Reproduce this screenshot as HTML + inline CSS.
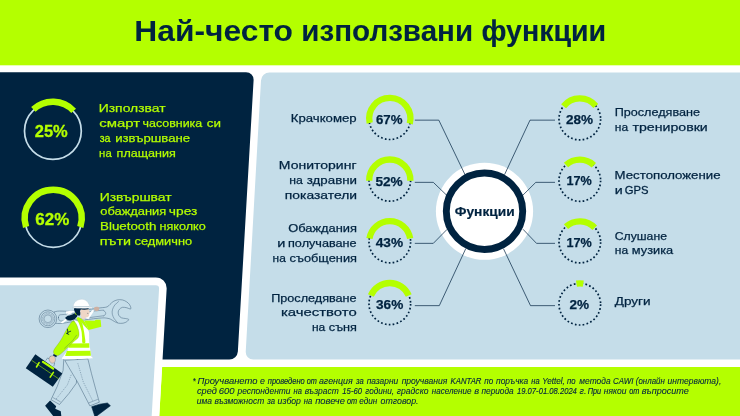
<!DOCTYPE html>
<html lang="bg"><head><meta charset="utf-8"><title>Най-често използвани функции</title>
<style>html,body{margin:0;padding:0;background:#fff;}body{width:740px;height:416px;overflow:hidden;position:relative;}svg{display:block;position:absolute;left:0;top:0;}text{font-family:"Liberation Sans",sans-serif;}</style>
</head><body>
<svg width="740" height="416" viewBox="0 0 740 416">
<rect x="0" y="0" width="740" height="416" fill="#ffffff"/>
<rect x="0" y="0" width="740" height="65.3" fill="#b4ff00"/>
<g transform="skewX(-3.319)">
<rect x="-60" y="72.2" width="318.24" height="287.30" rx="8" fill="#002340"/>
<rect x="183.39" y="367" width="700" height="60" fill="#b4ff00"/>
<rect x="-60" y="277.4" width="243.39" height="160" rx="11.5" fill="#ffffff"/>
<rect x="-60" y="285.3" width="235.82" height="160" rx="3.5" fill="#c5dde9"/>
</g>
<g transform="skewX(-3.217)">
<rect x="265.50" y="72.4" width="600" height="287.10" rx="8" fill="#c5dde9"/>
</g>
<text y="41.4" font-size="30" fill="#002340" font-weight="bold"><tspan x="134.28" textLength="158.75" lengthAdjust="spacingAndGlyphs">Най-често</tspan> <tspan x="301.36" textLength="171.77" lengthAdjust="spacingAndGlyphs" stroke="#002340" stroke-width="0.05">използвани</tspan> <tspan x="481.46" textLength="124.71" lengthAdjust="spacingAndGlyphs" stroke="#002340" stroke-width="0.12">функции</tspan></text>
<circle cx="52.90" cy="131.00" r="28.4" fill="none" stroke="#c5dde9" stroke-width="1.7"/>
<path d="M33.36 109.46A28.5 28.5 0 0 1 73.64 110.86" fill="none" stroke="#b4ff00" stroke-width="6.5"/>
<text x="34.73" y="136.7" font-size="16" fill="#b4ff00" font-weight="bold" textLength="33.01" lengthAdjust="spacingAndGlyphs" stroke="#b4ff00" stroke-width="0.3">25%</text>
<circle cx="53.30" cy="218.90" r="28.4" fill="none" stroke="#c5dde9" stroke-width="1.7"/>
<path d="M26.09 227.01A28.5 28.5 0 1 1 80.31 227.01" fill="none" stroke="#b4ff00" stroke-width="6.5"/>
<text x="35.28" y="225.3" font-size="16" fill="#b4ff00" font-weight="bold" textLength="33.97" lengthAdjust="spacingAndGlyphs" stroke="#b4ff00" stroke-width="0.3">62%</text>
<text y="112.4" font-size="11.5" fill="#b4ff00" stroke="#b4ff00" stroke-width="0.25"><tspan x="98.77" textLength="66.76" lengthAdjust="spacingAndGlyphs">Използват</tspan></text>
<text y="127.3" font-size="11.5" fill="#b4ff00" stroke="#b4ff00" stroke-width="0.25"><tspan x="99.27" textLength="40.78" lengthAdjust="spacingAndGlyphs">смарт</tspan> <tspan x="142.55" textLength="59.65" lengthAdjust="spacingAndGlyphs">часовника</tspan> <tspan x="206.83" textLength="14.2" lengthAdjust="spacingAndGlyphs">си</tspan></text>
<text y="142.0" font-size="11.5" fill="#b4ff00" stroke="#b4ff00" stroke-width="0.25"><tspan x="99.64" textLength="10.86" lengthAdjust="spacingAndGlyphs" stroke="#b4ff00" stroke-width="0.31">за</tspan> <tspan x="115.19" textLength="74.89" lengthAdjust="spacingAndGlyphs">извършване</tspan></text>
<text y="156.7" font-size="11.5" fill="#b4ff00" stroke="#b4ff00" stroke-width="0.25"><tspan x="99.11" textLength="12.59" lengthAdjust="spacingAndGlyphs">на</tspan> <tspan x="116.63" textLength="59.14" lengthAdjust="spacingAndGlyphs">плащания</tspan></text>
<text y="200.5" font-size="11.5" fill="#b4ff00" stroke="#b4ff00" stroke-width="0.25"><tspan x="99.67" textLength="71.96" lengthAdjust="spacingAndGlyphs">Извършват</tspan></text>
<text y="215.29999999999998" font-size="11.5" fill="#b4ff00" stroke="#b4ff00" stroke-width="0.25"><tspan x="100.26" textLength="65.93" lengthAdjust="spacingAndGlyphs">обаждания</tspan> <tspan x="168.89" textLength="28.53" lengthAdjust="spacingAndGlyphs">чрез</tspan></text>
<text y="229.89999999999998" font-size="11.5" fill="#b4ff00" stroke="#b4ff00" stroke-width="0.25"><tspan x="100.0" textLength="56.46" lengthAdjust="spacingAndGlyphs">Bluetooth</tspan> <tspan x="159.52" textLength="46.31" lengthAdjust="spacingAndGlyphs">няколко</tspan></text>
<text y="244.7" font-size="11.5" fill="#b4ff00" stroke="#b4ff00" stroke-width="0.25"><tspan x="99.81" textLength="31.29" lengthAdjust="spacingAndGlyphs">пъти</tspan> <tspan x="134.56" textLength="57.58" lengthAdjust="spacingAndGlyphs">седмично</tspan></text>
<circle cx="484.5" cy="211.25" r="48.6" fill="#ffffff"/>
<path d="M414.8 120.15L438.8 120.15L465.3 175.25" fill="none" stroke="#002340" stroke-width="0.7" stroke-linejoin="miter"/>
<path d="M414.8 182.35L433.3 182.35L447.0 195.55" fill="none" stroke="#002340" stroke-width="0.7" stroke-linejoin="miter"/>
<path d="M414.8 243.35L433.3 243.35L447.2 229.25" fill="none" stroke="#002340" stroke-width="0.7" stroke-linejoin="miter"/>
<path d="M414.8 305.65L439.3 305.65L465.8 248.55" fill="none" stroke="#002340" stroke-width="0.7" stroke-linejoin="miter"/>
<path d="M555.0 120.15L530.0 120.15L504.5 174.75" fill="none" stroke="#002340" stroke-width="0.7" stroke-linejoin="miter"/>
<path d="M555.0 182.35L535.8 182.35L523.0 195.05" fill="none" stroke="#002340" stroke-width="0.7" stroke-linejoin="miter"/>
<path d="M555.0 243.35L536.5 243.35L523.0 229.25" fill="none" stroke="#002340" stroke-width="0.7" stroke-linejoin="miter"/>
<path d="M555.0 305.65L530.5 305.65L503.5 248.75" fill="none" stroke="#002340" stroke-width="0.7" stroke-linejoin="miter"/>
<circle cx="484.5" cy="211.25" r="38.2" fill="#ffffff" stroke="#002340" stroke-width="6.9"/>
<text x="454.72" y="215.6" font-size="13.5" fill="#002340" font-weight="bold" textLength="59.93" lengthAdjust="spacingAndGlyphs" stroke="#002340" stroke-width="0.2">Функции</text>
<circle cx="389.8" cy="118.70" r="20.8" fill="none" stroke="#002340" stroke-width="1.7" stroke-dasharray="1.7 2.2603" transform="rotate(0.386 389.8 118.70)"/>
<path d="M369.69 122.96A20.6 20.6 0 1 1 409.74 123.66" fill="none" stroke="#b4ff00" stroke-width="6.3"/>
<text x="375.91" y="123.7" font-size="13.3" fill="#002340" font-weight="bold" textLength="26.54" lengthAdjust="spacingAndGlyphs" stroke="#002340" stroke-width="0.25">67%</text>
<circle cx="389.8" cy="180.40" r="20.8" fill="none" stroke="#002340" stroke-width="1.7" stroke-dasharray="1.7 2.2603" transform="rotate(0.386 389.8 180.40)"/>
<path d="M369.21 180.74A20.6 20.6 0 1 1 410.39 180.74" fill="none" stroke="#b4ff00" stroke-width="6.3"/>
<text x="375.48" y="185.5" font-size="13.3" fill="#002340" font-weight="bold" textLength="27.28" lengthAdjust="spacingAndGlyphs" stroke="#002340" stroke-width="0.25">52%</text>
<circle cx="389.8" cy="242.00" r="20.8" fill="none" stroke="#002340" stroke-width="1.7" stroke-dasharray="1.7 2.2603" transform="rotate(0.386 389.8 242.00)"/>
<path d="M369.45 238.58A20.6 20.6 0 0 1 410.15 238.58" fill="none" stroke="#b4ff00" stroke-width="6.3"/>
<text x="375.69" y="247.2" font-size="13.3" fill="#002340" font-weight="bold" textLength="27.37" lengthAdjust="spacingAndGlyphs" stroke="#002340" stroke-width="0.25">43%</text>
<circle cx="389.8" cy="303.80" r="20.8" fill="none" stroke="#002340" stroke-width="1.7" stroke-dasharray="1.7 2.2603" transform="rotate(0.386 389.8 303.80)"/>
<path d="M370.84 295.55A20.6 20.6 0 0 1 408.76 295.55" fill="none" stroke="#b4ff00" stroke-width="6.3"/>
<text x="375.99" y="308.7" font-size="13.3" fill="#002340" font-weight="bold" textLength="27.27" lengthAdjust="spacingAndGlyphs" stroke="#002340" stroke-width="0.25">36%</text>
<circle cx="579.8" cy="119.10" r="20.8" fill="none" stroke="#002340" stroke-width="1.7" stroke-dasharray="1.7 2.2603" transform="rotate(0.386 579.8 119.10)"/>
<path d="M563.57 106.22A20.6 20.6 0 0 1 595.81 105.94" fill="none" stroke="#b4ff00" stroke-width="6.3"/>
<text x="565.93" y="123.9" font-size="13.3" fill="#002340" font-weight="bold" textLength="27.13" lengthAdjust="spacingAndGlyphs" stroke="#002340" stroke-width="0.25">28%</text>
<circle cx="579.8" cy="180.50" r="20.8" fill="none" stroke="#002340" stroke-width="1.7" stroke-dasharray="1.7 2.2603" transform="rotate(0.386 579.8 180.50)"/>
<path d="M566.02 164.99A20.6 20.6 0 0 1 593.85 165.23" fill="none" stroke="#b4ff00" stroke-width="6.3"/>
<text x="566.5" y="185.1" font-size="13.3" fill="#002340" font-weight="bold" textLength="25.33" lengthAdjust="spacingAndGlyphs" stroke="#002340" stroke-width="0.25">17%</text>
<circle cx="579.8" cy="242.10" r="20.8" fill="none" stroke="#002340" stroke-width="1.7" stroke-dasharray="1.7 2.2603" transform="rotate(0.386 579.8 242.10)"/>
<path d="M566.02 226.59A20.6 20.6 0 0 1 594.74 227.72" fill="none" stroke="#b4ff00" stroke-width="6.3"/>
<text x="566.5" y="247.0" font-size="13.3" fill="#002340" font-weight="bold" textLength="25.33" lengthAdjust="spacingAndGlyphs" stroke="#002340" stroke-width="0.25">17%</text>
<circle cx="579.8" cy="304.20" r="20.8" fill="none" stroke="#002340" stroke-width="1.7" stroke-dasharray="1.7 2.2603" transform="rotate(0.386 579.8 304.20)"/>
<path d="M576.47 283.67A20.6 20.6 0 0 1 583.27 283.69" fill="none" stroke="#b4ff00" stroke-width="6.3"/>
<text x="569.53" y="309.0" font-size="13.3" fill="#002340" font-weight="bold" textLength="19.63" lengthAdjust="spacingAndGlyphs" stroke="#002340" stroke-width="0.25">2%</text>
<text y="122.0" font-size="11.5" fill="#002340" stroke="#002340" stroke-width="0.25"><tspan x="290.82" textLength="65.83" lengthAdjust="spacingAndGlyphs">Крачкомер</tspan></text>
<text y="169.39999999999998" font-size="11.5" fill="#002340" stroke="#002340" stroke-width="0.25"><tspan x="278.85" textLength="77.66" lengthAdjust="spacingAndGlyphs">Мониторинг</tspan></text>
<text y="184.1" font-size="11.5" fill="#002340" stroke="#002340" stroke-width="0.25"><tspan x="289.25" textLength="13.55" lengthAdjust="spacingAndGlyphs">на</tspan> <tspan x="306.78" textLength="50.23" lengthAdjust="spacingAndGlyphs">здравни</tspan></text>
<text y="198.6" font-size="11.5" fill="#002340" stroke="#002340" stroke-width="0.25"><tspan x="284.85" textLength="72.2" lengthAdjust="spacingAndGlyphs">показатели</tspan></text>
<text y="232.29999999999998" font-size="11.5" fill="#002340" stroke="#002340" stroke-width="0.25"><tspan x="288.29" textLength="68.69" lengthAdjust="spacingAndGlyphs">Обаждания</tspan></text>
<text y="247.0" font-size="11.5" fill="#002340" stroke="#002340" stroke-width="0.25"><tspan x="277.29" textLength="8.11" lengthAdjust="spacingAndGlyphs">и</tspan> <tspan x="288.03" textLength="68.63" lengthAdjust="spacingAndGlyphs">получаване</tspan></text>
<text y="261.5" font-size="11.5" fill="#002340" stroke="#002340" stroke-width="0.25"><tspan x="272.57" textLength="13.23" lengthAdjust="spacingAndGlyphs">на</tspan> <tspan x="289.56" textLength="67.43" lengthAdjust="spacingAndGlyphs">съобщения</tspan></text>
<text y="301.5" font-size="11.5" fill="#002340" stroke="#002340" stroke-width="0.25"><tspan x="271.18" textLength="85.48" lengthAdjust="spacingAndGlyphs">Проследяване</tspan></text>
<text y="316.09999999999997" font-size="11.5" fill="#002340" stroke="#002340" stroke-width="0.25"><tspan x="280.9" textLength="75.82" lengthAdjust="spacingAndGlyphs">качеството</tspan></text>
<text y="330.7" font-size="11.5" fill="#002340" stroke="#002340" stroke-width="0.25"><tspan x="311.97" textLength="13.33" lengthAdjust="spacingAndGlyphs">на</tspan> <tspan x="328.86" textLength="28.12" lengthAdjust="spacingAndGlyphs">съня</tspan></text>
<text y="116.4" font-size="11.5" fill="#002340" stroke="#002340" stroke-width="0.25"><tspan x="614.68" textLength="85.38" lengthAdjust="spacingAndGlyphs">Проследяване</tspan></text>
<text y="130.5" font-size="11.5" fill="#002340" stroke="#002340" stroke-width="0.25"><tspan x="614.87" textLength="13.33" lengthAdjust="spacingAndGlyphs">на</tspan> <tspan x="632.46" textLength="75.32" lengthAdjust="spacingAndGlyphs">тренировки</tspan></text>
<text y="179.29999999999998" font-size="11.5" fill="#002340" stroke="#002340" stroke-width="0.25"><tspan x="614.62" textLength="105.87" lengthAdjust="spacingAndGlyphs">Местоположение</tspan></text>
<text y="193.7" font-size="11.5" fill="#002340" stroke="#002340" stroke-width="0.25"><tspan x="614.71" textLength="7.98" lengthAdjust="spacingAndGlyphs">и</tspan> <tspan x="624.83" textLength="23.78" lengthAdjust="spacingAndGlyphs" stroke="#002340" stroke-width="0.27">GPS</tspan></text>
<text y="239.5" font-size="11.5" fill="#002340" stroke="#002340" stroke-width="0.25"><tspan x="614.78" textLength="52.16" lengthAdjust="spacingAndGlyphs">Слушане</tspan></text>
<text y="254.1" font-size="11.5" fill="#002340" stroke="#002340" stroke-width="0.25"><tspan x="614.87" textLength="13.33" lengthAdjust="spacingAndGlyphs">на</tspan> <tspan x="631.8" textLength="41.4" lengthAdjust="spacingAndGlyphs">музика</tspan></text>
<text y="304.9" font-size="11.5" fill="#002340" stroke="#002340" stroke-width="0.25"><tspan x="614.8" textLength="35.83" lengthAdjust="spacingAndGlyphs">Други</tspan></text>
<text y="383.9" font-size="8.3" fill="#002340" font-style="italic" stroke="#002340" stroke-width="0.08"><tspan x="192.72" textLength="2.84" lengthAdjust="spacingAndGlyphs" stroke="#002340" stroke-width="0.16">*</tspan> <tspan x="197.61" textLength="59.88" lengthAdjust="spacingAndGlyphs">Проучването</tspan> <tspan x="260.1" textLength="4.93" lengthAdjust="spacingAndGlyphs">е</tspan> <tspan x="267.78" textLength="36.96" lengthAdjust="spacingAndGlyphs" stroke="#002340" stroke-width="0.15">проведено</tspan> <tspan x="306.73" textLength="10.15" lengthAdjust="spacingAndGlyphs" stroke="#002340" stroke-width="0.16">от</tspan> <tspan x="318.9" textLength="33.88" lengthAdjust="spacingAndGlyphs">агенция</tspan> <tspan x="356.05" textLength="7.71" lengthAdjust="spacingAndGlyphs" stroke="#002340" stroke-width="0.14">за</tspan> <tspan x="366.66" textLength="31.5" lengthAdjust="spacingAndGlyphs">пазарни</tspan> <tspan x="401.66" textLength="45.71" lengthAdjust="spacingAndGlyphs">проучвания</tspan> <tspan x="450.57" textLength="30.87" lengthAdjust="spacingAndGlyphs" stroke="#002340" stroke-width="0.14">KANTAR</tspan> <tspan x="484.37" textLength="8.89" lengthAdjust="spacingAndGlyphs" stroke="#002340" stroke-width="0.10">по</tspan> <tspan x="496.06" textLength="32.23" lengthAdjust="spacingAndGlyphs">поръчка</tspan> <tspan x="531.28" textLength="8.28" lengthAdjust="spacingAndGlyphs" stroke="#002340" stroke-width="0.15">на</tspan> <tspan x="542.27" textLength="22.55" lengthAdjust="spacingAndGlyphs" stroke="#002340" stroke-width="0.11">Yettel,</tspan> <tspan x="566.97" textLength="8.57" lengthAdjust="spacingAndGlyphs" stroke="#002340" stroke-width="0.12">по</tspan> <tspan x="579.36" textLength="31.22" lengthAdjust="spacingAndGlyphs">метода</tspan> <tspan x="613.07" textLength="20.42" lengthAdjust="spacingAndGlyphs" stroke="#002340" stroke-width="0.12">CAWI</tspan> <tspan x="635.83" textLength="28.92" lengthAdjust="spacingAndGlyphs" stroke="#002340" stroke-width="0.11">(онлайн</tspan> <tspan x="667.64" textLength="53.64" lengthAdjust="spacingAndGlyphs">интервюта),</tspan></text>
<text y="394.3" font-size="8.3" fill="#002340" font-style="italic" stroke="#002340" stroke-width="0.08"><tspan x="196.9" textLength="19.89" lengthAdjust="spacingAndGlyphs">сред</tspan> <tspan x="218.77" textLength="15.81" lengthAdjust="spacingAndGlyphs">600</tspan> <tspan x="237.51" textLength="52.96" lengthAdjust="spacingAndGlyphs">респонденти</tspan> <tspan x="293.58" textLength="8.28" lengthAdjust="spacingAndGlyphs" stroke="#002340" stroke-width="0.15">на</tspan> <tspan x="304.84" textLength="33.95" lengthAdjust="spacingAndGlyphs">възраст</tspan> <tspan x="342.3" textLength="19.76" lengthAdjust="spacingAndGlyphs" stroke="#002340" stroke-width="0.13">15-60</tspan> <tspan x="365.22" textLength="28.92" lengthAdjust="spacingAndGlyphs" stroke="#002340" stroke-width="0.09">години,</tspan> <tspan x="396.82" textLength="31.66" lengthAdjust="spacingAndGlyphs">градско</tspan> <tspan x="431.87" textLength="39.63" lengthAdjust="spacingAndGlyphs" stroke="#002340" stroke-width="0.10">население</tspan> <tspan x="474.22" textLength="4.85" lengthAdjust="spacingAndGlyphs">в</tspan> <tspan x="481.46" textLength="32.22" lengthAdjust="spacingAndGlyphs">периода</tspan> <tspan x="517.0" textLength="59.88" lengthAdjust="spacingAndGlyphs" stroke="#002340" stroke-width="0.13">19.07-01.08.2024</tspan> <tspan x="579.6" textLength="7.01" lengthAdjust="spacingAndGlyphs">г.</tspan> <tspan x="587.75" textLength="13.42" lengthAdjust="spacingAndGlyphs" stroke="#002340" stroke-width="0.16">При</tspan> <tspan x="603.86" textLength="22.71" lengthAdjust="spacingAndGlyphs">някои</tspan> <tspan x="629.13" textLength="10.15" lengthAdjust="spacingAndGlyphs" stroke="#002340" stroke-width="0.16">от</tspan> <tspan x="641.73" textLength="47.2" lengthAdjust="spacingAndGlyphs">въпросите</tspan></text>
<text y="404.4" font-size="8.3" fill="#002340" font-style="italic" stroke="#002340" stroke-width="0.08"><tspan x="196.84" textLength="15.25" lengthAdjust="spacingAndGlyphs">има</tspan> <tspan x="214.44" textLength="49.74" lengthAdjust="spacingAndGlyphs">възможност</tspan> <tspan x="267.25" textLength="7.81" lengthAdjust="spacingAndGlyphs" stroke="#002340" stroke-width="0.13">за</tspan> <tspan x="277.64" textLength="23.34" lengthAdjust="spacingAndGlyphs">избор</tspan> <tspan x="303.77" textLength="8.49" lengthAdjust="spacingAndGlyphs" stroke="#002340" stroke-width="0.13">на</tspan> <tspan x="315.15" textLength="29.79" lengthAdjust="spacingAndGlyphs">повече</tspan> <tspan x="346.88" textLength="10.15" lengthAdjust="spacingAndGlyphs" stroke="#002340" stroke-width="0.16">от</tspan> <tspan x="359.33" textLength="18.03" lengthAdjust="spacingAndGlyphs" stroke="#002340" stroke-width="0.09">един</tspan> <tspan x="380.61" textLength="37.95" lengthAdjust="spacingAndGlyphs">отговор.</tspan></text>
<g id="worker">
<path d="M54.5 312.0C57.2 310.0 66.4 311.7 72.0 311.3C77.6 310.9 83.3 310.2 88.0 309.6C92.7 309.0 96.8 308.4 100.0 307.9C103.2 307.5 105.3 307.5 106.9 306.9C108.6 306.3 109.0 305.3 110.0 304.4C111.0 303.5 111.9 302.4 113.1 301.6C114.3 300.9 115.8 300.2 117.3 299.9C118.8 299.6 120.8 299.6 122.3 299.9C123.8 300.2 125.1 300.9 126.3 301.6C127.5 302.4 128.6 303.3 129.4 304.4C130.2 305.4 130.8 307.2 130.9 307.9C131.1 308.7 130.8 309.0 130.2 309.0C129.5 309.0 128.2 308.1 126.9 307.8C125.6 307.5 123.7 307.1 122.5 307.3C121.2 307.6 120.1 308.5 119.4 309.3C118.7 310.1 118.2 311.1 118.2 312.1C118.1 313.1 118.4 314.5 118.9 315.5C119.5 316.4 120.3 317.3 121.4 317.8C122.5 318.3 124.2 318.3 125.4 318.5C126.6 318.8 128.4 318.8 128.6 319.3C128.9 319.8 127.8 321.0 126.9 321.6C126.0 322.3 124.5 322.9 123.1 323.2C121.7 323.4 119.9 323.4 118.5 323.2C117.1 322.9 115.9 322.3 114.6 321.6C113.3 321.0 112.1 319.9 110.8 319.3C109.5 318.7 108.7 318.4 106.9 318.2C105.1 317.9 104.5 317.7 100.0 318.1C95.5 318.5 87.4 319.5 80.0 320.4C72.6 321.3 59.9 324.6 55.6 323.2C51.4 321.8 51.7 314.0 54.5 312.0Z" fill="#c5dde9" stroke="#3f5e78" stroke-width="0.5" stroke-linejoin="round" stroke-linecap="round"/>
<path d="M118.5 301.6C117.8 302.2 115.8 303.7 114.8 305.0C113.8 306.3 112.9 308.1 112.5 309.6C112.1 311.2 112.0 312.7 112.3 314.2C112.6 315.8 113.5 317.5 114.3 318.8C115.2 320.2 116.9 321.8 117.4 322.4" fill="none" stroke="#3f5e78" stroke-width="0.45" stroke-linejoin="round" stroke-linecap="round"/>
<circle cx="47.9" cy="318.8" r="8.8" fill="#c5dde9" stroke="#3f5e78" stroke-width="0.5"/>
<circle cx="47.9" cy="318.8" r="7.0" fill="none" stroke="#3f5e78" stroke-width="0.45"/>
<circle cx="47.9" cy="318.8" r="4.7" fill="none" stroke="#b0c8d6" stroke-width="1.7"/>
<circle cx="47.9" cy="318.8" r="5.6" fill="none" stroke="#3f5e78" stroke-width="0.3" stroke-dasharray="2 0.9" opacity="0.8"/>
<circle cx="47.9" cy="318.8" r="3.8" fill="none" stroke="#3f5e78" stroke-width="0.35" opacity="0.9"/>
<path d="M58.5 317.5C58.5 316.6 58.5 315.5 59.8 314.9C61.2 314.4 60.1 315.0 66.8 314.2C73.5 313.5 93.8 310.9 100.0 310.4C106.2 309.8 102.9 310.5 103.8 310.8C104.8 311.2 105.3 311.8 105.5 312.4C105.8 312.9 105.8 313.7 105.5 314.2C105.3 314.8 104.8 315.4 103.8 315.8C102.9 316.1 106.2 315.4 100.0 316.2C93.8 317.0 73.5 319.7 66.8 320.5C60.1 321.2 61.2 321.1 59.8 320.6C58.5 320.1 58.5 318.5 58.5 317.5Z" fill="none" stroke="#3f5e78" stroke-width="0.45" stroke-linejoin="round" stroke-linecap="round"/>
<path d="M60.5 322.7L66.4 318.2L69.8 315.5L72.0 315.5L66.8 320.5L62.5 323.2Z" fill="#ffffff"/>
<path d="M66.4 314.4L69.8 312.1L72.0 311.5L72.0 313.2L68.3 314.8Z" fill="#ffffff"/>
<path d="M84.8 318.2L89.1 313.8L92.3 310.0L94.3 310.5L91.5 314.7L88.5 319.0Z" fill="#ffffff"/>
<path d="M66.0 311.5L70.6 310.8L74.5 311.0L74.5 312.1L69.1 313.1L66.0 313.8Z" fill="#ffffff"/>
<path d="M45.1 405.7L50.1 400.6L56.2 406.2L55.2 408.7L60.8 411.3L61.3 416.0L53.2 416.0Z" fill="#002340"/>
<path d="M91.7 406.7L99.8 404.2L107.4 403.0L110.4 405.7L96.7 416.0L94.7 416.0Z" fill="#002340" stroke="#002340" stroke-width="0.6" stroke-linejoin="round"/>
<path d="M63.8 358.9L77.5 358.9L76.4 383.1L68.9 393.5L59.5 404.5L51.0 399.7L57.3 386.3L63.1 370.4Z" fill="#c5dde9" stroke="#3f5e78" stroke-width="0.5" stroke-linejoin="round"/>
<path d="M64.8 360.3L87.9 358.9L91.4 373.3L95.7 389.2L99.3 402.2L89.9 405.9L77.5 382.0L68.9 367.5Z" fill="#c5dde9" stroke="#3f5e78" stroke-width="0.5" stroke-linejoin="round"/>
<path d="M52.7 397.4L60.6 401.9" fill="none" stroke="#3f5e78" stroke-width="0.4" stroke-linejoin="round"/>
<path d="M88.5 403.0L97.9 399.3" fill="none" stroke="#3f5e78" stroke-width="0.4" stroke-linejoin="round"/>
<path d="M77.8 363.2L83.3 382.0L92.8 401.0" fill="none" stroke="#3f5e78" stroke-width="0.4" stroke-linejoin="round" stroke-dasharray="1.3 1"/>
<path d="M71.2 374.8L67.4 384.9L55.9 399.3" fill="none" stroke="#3f5e78" stroke-width="0.4" stroke-linejoin="round" stroke-dasharray="1.3 1"/>
<path d="M35.3 354.2L62.3 373.5L52.8 386.7L25.8 368.2Z" fill="#002340"/>
<path d="M31.6 360.3L58.6 378.8" fill="none" stroke="#b4ff00" stroke-width="0.55" stroke-linejoin="round"/>
<path d="M39.1 362.7L36.5 367.0" fill="none" stroke="#b4ff00" stroke-width="1.6" stroke-linejoin="round" stroke-linecap="round"/>
<path d="M53.4 372.4L50.2 377.1" fill="none" stroke="#b4ff00" stroke-width="1.6" stroke-linejoin="round" stroke-linecap="round"/>
<path d="M45.7 360.6L47.7 357.9L54.7 362.9L53.8 366.3" fill="none" stroke="#3f5e78" stroke-width="0.5" stroke-linejoin="round"/>
<path d="M43.0 361.9L53.1 368.5" fill="none" stroke="#b4ff00" stroke-width="2.3" stroke-linejoin="round" stroke-linecap="round"/>
<path d="M50.1 356.6C50.9 355.9 52.9 355.5 53.8 355.9C54.7 356.4 55.4 358.1 55.5 359.2C55.6 360.3 55.2 361.8 54.5 362.4C53.8 363.0 52.2 363.5 51.3 363.0C50.4 362.6 49.3 360.8 49.1 359.7C48.9 358.7 49.3 357.2 50.1 356.6Z" fill="#e8ccba" stroke="#3f5e78" stroke-width="0.3" stroke-linejoin="round" stroke-linecap="round"/>
<path d="M84.4 320.5L94.7 320.8L95.8 319.7L100.6 319.7L101.3 326.7L88.5 330.1L86.9 326.1L85.3 322.9Z" fill="#b4ff00"/>
<path d="M74.3 320.4C74.9 320.0 79.4 322.6 81.4 323.8C83.4 325.1 84.9 326.4 86.2 327.7C87.4 329.0 88.3 330.0 88.8 331.5C89.3 333.1 89.1 335.0 89.2 336.9C89.2 338.8 89.0 339.9 89.3 343.1C89.7 346.3 90.9 353.5 91.2 356.0C91.6 358.5 95.9 357.8 91.4 358.3C86.9 358.8 68.9 359.6 64.2 359.2C59.6 358.8 63.0 357.4 63.5 356.0C64.1 354.6 66.5 352.9 67.5 350.8C68.5 348.6 68.2 345.0 69.5 343.1C70.7 341.2 73.8 340.9 75.2 339.2C76.7 337.6 77.9 335.3 78.3 333.1C78.7 330.9 78.2 328.3 77.5 326.2C76.9 324.0 73.7 320.8 74.3 320.4Z" fill="#ffffff"/>
<path d="M76.5 318.3L78.8 317.3L82.4 319.6L85.0 322.2L86.9 326.1L88.5 330.1L85.3 326.8L82.4 323.2L78.8 320.0Z" fill="#b4ff00"/>
<path d="M76.8 318.6C76.8 317.6 77.9 317.0 78.8 317.7C79.7 318.5 81.3 321.1 82.1 323.2C83.0 325.3 83.3 328.0 83.8 330.4C84.3 332.8 84.7 335.6 84.9 337.6C85.2 339.7 85.7 342.0 85.2 342.8C84.8 343.7 82.9 343.7 82.4 342.8C81.9 342.0 82.2 339.7 82.1 337.6C81.9 335.6 81.9 332.8 81.3 330.4C80.8 328.1 79.7 325.5 79.0 323.5C78.2 321.5 76.8 319.6 76.8 318.6Z" fill="#b4ff00"/>
<path d="M69.2 343.5L89.2 343.2L89.4 347.7L68.2 347.8Z" fill="#b4ff00"/>
<path d="M66.9 351.0L90.4 350.7L90.9 355.8L65.1 356.0Z" fill="#b4ff00"/>
<path d="M73.4 320.9C75.1 321.1 77.1 325.5 77.9 328.2C78.8 330.8 79.6 334.3 78.7 336.6C77.9 339.0 76.3 339.2 73.0 342.3C69.6 345.4 61.9 353.8 58.6 355.3C55.4 356.8 53.2 353.8 53.5 351.3C53.9 348.9 58.1 344.6 60.5 340.6C63.0 336.6 65.9 330.5 68.0 327.3C70.1 324.0 71.8 320.8 73.4 320.9Z" fill="#b4ff00" stroke="#5d8a2a" stroke-width="0.25" stroke-linejoin="round" stroke-linecap="round"/>
<path d="M76.8 334.9L72.7 340.6L64.3 348.5" fill="none" stroke="#3f5e78" stroke-width="0.35" stroke-linejoin="round"/>
<path d="M53.6 354.0L57.0 355.7L56.2 357.2L53.0 355.5Z" fill="#002340"/>
<path d="M67.4 329.2L67.9 332.5L67.5 333.6" fill="none" stroke="#002340" stroke-width="0.85" stroke-linejoin="round" stroke-linecap="round"/>
<path d="M67.9 332.3L70.7 331.2" fill="none" stroke="#002340" stroke-width="0.8" stroke-linejoin="round" stroke-linecap="round"/>
<path d="M66.4 333.3L68.8 334.4" fill="none" stroke="#002340" stroke-width="0.8" stroke-linejoin="round" stroke-linecap="round"/>
<path d="M81.0 315.8L85.2 316.9L84.6 320.0L81.4 318.5Z" fill="#efd6c6"/>
<path d="M81.0 309.2C81.7 308.3 83.2 308.9 84.5 308.8C85.7 308.8 87.5 308.5 88.3 308.8C89.1 309.2 88.8 310.2 89.1 310.8C89.3 311.4 89.9 311.9 89.9 312.4C89.9 312.8 89.2 313.0 89.1 313.5C88.9 313.9 89.3 314.4 89.2 315.0C89.0 315.6 88.7 316.5 88.0 316.9C87.3 317.3 86.1 317.4 85.2 317.4C84.3 317.4 83.4 317.4 82.5 316.9C81.7 316.4 80.6 315.5 80.3 314.2C80.1 312.9 80.3 310.1 81.0 309.2Z" fill="#efd6c6"/>
<path d="M74.3 308.2C75.3 307.4 80.6 308.1 81.8 308.2C82.9 308.4 81.5 308.9 81.2 309.3C80.9 309.7 80.2 309.7 80.0 310.4C79.8 311.1 80.4 312.6 80.3 313.5C80.3 314.3 80.2 315.3 79.7 315.6C79.2 315.9 78.2 315.6 77.5 315.2C76.9 314.7 76.2 314.2 75.6 313.1C75.1 311.9 73.3 309.0 74.3 308.2Z" fill="#002340"/>
<path d="M76.8 312.8C75.9 312.6 73.8 314.0 72.2 314.6C70.5 315.2 67.9 315.8 66.8 316.4C65.6 316.9 65.3 317.4 65.4 317.9C65.4 318.5 66.3 319.4 67.2 319.8C68.0 320.2 69.4 320.5 70.6 320.4C71.8 320.3 73.2 319.9 74.3 319.2C75.4 318.5 76.8 317.2 77.2 316.2C77.6 315.1 77.6 313.1 76.8 312.8Z" fill="#002340"/>
<path d="M75.1 312.8L76.4 315.0" fill="none" stroke="#b4ff00" stroke-width="0.7" stroke-linejoin="round"/>
<path d="M81.0 308.2L88.8 308.2L88.5 309.3L84.5 309.7L81.4 309.5Z" fill="#002340"/>
<path d="M87.2 313.3L88.3 313.5" fill="none" stroke="#002340" stroke-width="0.4" stroke-linejoin="round"/>
<path d="M73.3 307.5C73.4 306.8 73.2 305.3 73.7 304.2C74.1 303.2 75.0 301.9 76.0 301.2C77.0 300.4 78.6 299.7 79.8 299.5C81.1 299.2 82.5 299.1 83.7 299.5C84.9 299.8 86.3 300.7 87.2 301.5C88.1 302.4 88.6 303.8 89.1 304.6C89.5 305.4 89.4 306.1 89.9 306.5C90.4 307.0 91.7 306.9 92.0 307.2C92.3 307.4 92.3 308.0 91.8 308.2C91.4 308.3 90.8 308.0 89.1 308.0C87.3 308.0 84.0 308.3 81.4 308.3C78.8 308.3 74.7 308.1 73.3 308.0C72.0 307.9 73.2 308.1 73.3 307.5Z" fill="#ffffff" stroke="#a9bfcc" stroke-width="0.3" stroke-linejoin="round" stroke-linecap="round"/>
<path d="M73.5 306.7L89.1 306.5L90.2 307.2" fill="none" stroke="#b4c6d2" stroke-width="0.8" stroke-linejoin="round"/>
<path d="M94.1 307.7C94.5 307.2 95.9 306.8 96.8 306.8C97.6 306.8 98.8 307.2 99.2 307.7C99.5 308.2 99.2 309.4 98.8 310.0C98.4 310.6 97.5 311.2 96.8 311.2C96.1 311.2 94.9 310.7 94.5 310.1C94.0 309.5 93.7 308.2 94.1 307.7Z" fill="#cdb0a2"/>
</g>
</svg>
</body></html>
